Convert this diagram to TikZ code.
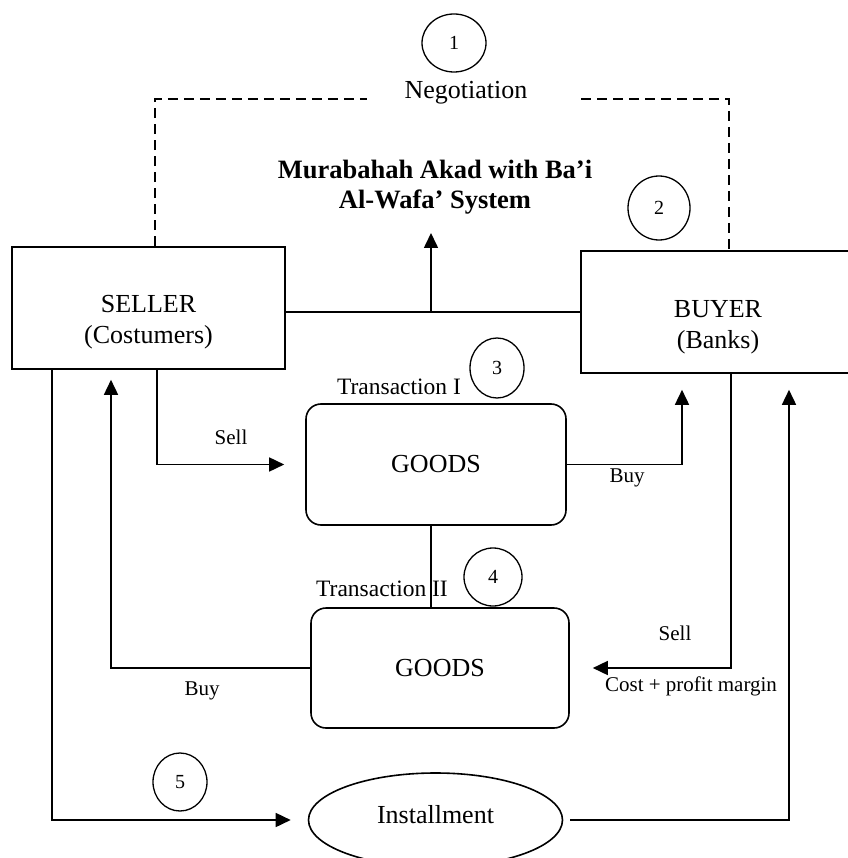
\documentclass[tikz,border=0pt]{standalone}
\usepackage{fontspec}
\setmainfont{Liberation Serif}
\usetikzlibrary{arrows.meta, shapes.geometric}
\newcommand{\bigfs}{\fontsize{26}{31}\selectfont}
\newcommand{\midfs}{\fontsize{23.5}{28}\selectfont}
\newcommand{\smallfs}{\fontsize{21}{25}\selectfont}
\newcommand{\numfs}{\fontsize{20}{24}\selectfont}

\begin{document}
\begin{tikzpicture}[x=1pt, y=-1pt,
		party/.style={rectangle, draw=black, line width=1.6pt, minimum width=273pt, minimum height=122pt, inner sep=0pt},
		goods/.style={rectangle, rounded corners=15pt, draw=black, line width=1.6pt, minimum width=259pt, minimum height=121pt, font=\bigfs},
		stepno/.style={ellipse, draw=black, line width=1.3pt, inner sep=0pt, font=\numfs},
		flow/.style={line width=1.6pt, -{Triangle[length=15pt, width=14pt]}},
		link/.style={line width=1.6pt},
		negoline/.style={line width=1.4pt, dash pattern=on 10pt off 6pt}]
		\useasboundingbox (0,0) rectangle (847,858);
		
		% negotiation
		\node[stepno, minimum width=64pt, minimum height=58pt] (n1) at (454,43) {1};
		\node[font=\bigfs] (nego) at (466,93) {Negotiation};
		\coordinate (negoL) at (367,99);
		\coordinate (negoR) at (581,99);
		\coordinate (dashL) at (155,99);
		\coordinate (dashR) at (729,99);
		
		% akad
		\node[font=\bfseries\fontsize{26.5}{30}\selectfont, align=center, inner sep=0pt] (title) at (435,187) {Murabahah Akad with Ba'i\\Al-Wafa' System};
		\node[stepno, minimum width=62pt, minimum height=64pt] (n2) at (659,208) {2};
		\coordinate (mid) at (431,312);
		\coordinate (akadtip) at (431,233);
		
		\node[party] (seller) at (148.5,308) {};
		\node[font=\bigfs, align=center] (sellertxt) at (148.5,322) {SELLER\\(Costumers)};
		\node[party, minimum width=274pt] (buyer) at (718,312) {};
		\node[font=\bigfs, align=center] (buyertxt) at (718,327) {BUYER\\(Banks)};
		
		% transaction I
		\node[stepno, minimum width=54pt, minimum height=60pt] (n3) at (497,368) {3};
		\node[font=\midfs] (tr1) at (399,387) {Transaction I};
		\node[goods, minimum width=260pt] (goods1) at (436,464.5) {GOODS};
		
		% transaction II
		\node[stepno, minimum width=58pt, minimum height=58pt] (n4) at (493,577) {4};
		\node[font=\midfs] (tr2) at (382,589) {Transaction II};
		\node[goods, minimum width=258pt, minimum height=120pt] (goods2) at (440,668) {GOODS};
		
		% installment
		\node[stepno, minimum width=54pt, minimum height=58pt] (n5) at (180,782) {5};
		\node[ellipse, draw=black, line width=1.6pt, minimum width=254pt, minimum height=94pt, inner sep=0pt, font=\bigfs] (install) at (435.5,820) {};
		\node[font=\bigfs] (installtxt) at (435.5,815) {Installment};
		
		% labels
		\node[font=\smallfs] (sell1) at (231,437) {Sell};
		\node[font=\smallfs] (buy1) at (627,478) {Buy};
		\node[font=\smallfs] (buy2) at (202,691) {Buy};
		\node[font=\smallfs] (sell2) at (675,633) {Sell};
		\node[font=\smallfs] (margin) at (691,686) {Cost + profit margin};
		
		\draw[negoline] (seller.north -| dashL) -- (dashL) -- (negoL);
		\draw[negoline] (negoR) -- (dashR) -- (buyer.north -| dashR);
		\draw[link] (seller.east |- mid) -- (buyer.west |- mid);
		\draw[flow] (mid) -- (akadtip);
		
		\draw[flow] ([xshift=8.5pt]seller.south) |- ([xshift=-21pt]goods1.west);
		\draw[flow] (goods1.east) -| ([xshift=-36pt, yshift=-16pt]buyer.south);
		\draw[link] (goods1.south -| mid) -- (goods2.north -| mid);
		\draw[flow] (goods2.west) -| ([xshift=-37.5pt, yshift=-10pt]seller.south);
		\draw[flow] ([xshift=13pt]buyer.south) |- ([xshift=23pt]goods2.east);
		\draw[flow] ([xshift=-96.5pt]seller.south) |- ([xshift=-17pt]install.west);
		\draw[flow] ([xshift=7pt]install.east) -| ([xshift=71pt, yshift=-16pt]buyer.south);
	\end{tikzpicture}
\end{document}
